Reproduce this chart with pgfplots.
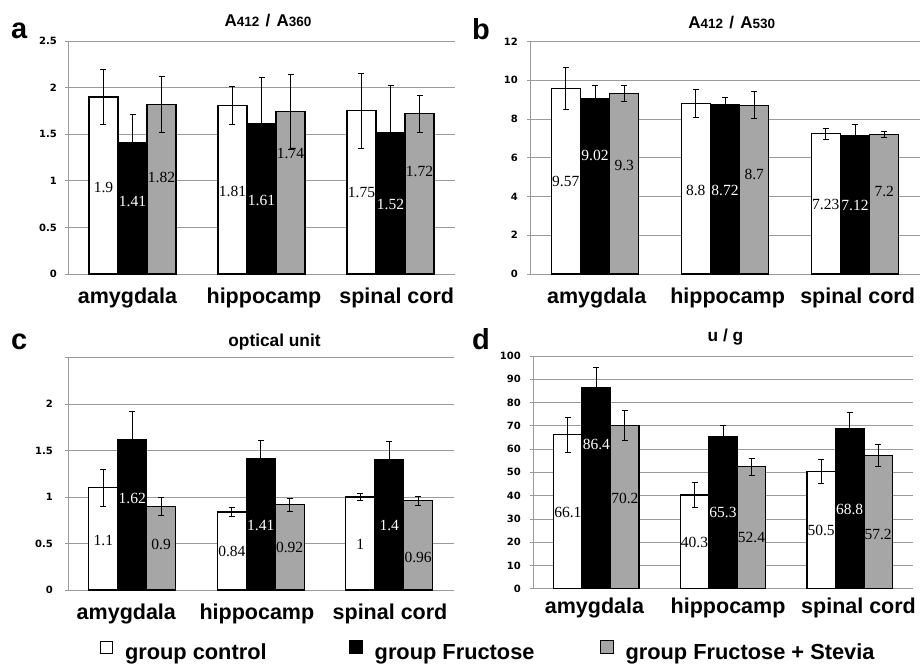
\documentclass[border=0pt]{standalone}
\usepackage{fontspec}
\setmainfont{Liberation Sans}
\newfontfamily\lserif{Liberation Serif}
\newfontfamily\dvs{DejaVu Sans}
\usepackage{pgfplots}
\usepackage{pgfplotstable}
\pgfplotsset{compat=1.18}

\newcommand\tickf{\dvs\fontsize{10}{12}\selectfont\bfseries}
\newcommand\catf{\fontsize{21.5}{24}\selectfont\bfseries}
\newcommand\labf{\lserif\fontsize{15.5}{17}\selectfont}
\newcommand\legf{\fontsize{21.8}{24}\selectfont\bfseries}
\newcommand\letf{\fontsize{29}{30}\selectfont\bfseries}
\newcommand\titf{\fontsize{17}{18}\selectfont\bfseries}
\newcommand\subf{\fontsize{13.5}{14}\selectfont\bfseries}
\newcommand\titr{\fontsize{17.3}{19}\selectfont\bfseries}

\definecolor{barg}{HTML}{A6A6A6}
\definecolor{gridg}{HTML}{9A9A9A}

% x: category; c/f/s: means; ce/fe/se: errors; cl/fl/sl: label heights
\pgfplotstableread{
x c ce f fe s se cl fl sl
0 1.9 0.3 1.41 0.3 1.82 0.3 0.93 0.78 1.04
1 1.81 0.2 1.61 0.5 1.74 0.4 0.89 0.79 1.29
2 1.75 0.4 1.52 0.5 1.72 0.2 0.87 0.75 1.10
}\dataA
\pgfplotstableread{
x c ce f fe s se cl fl sl
0 9.57 1.1 9.02 0.7 9.3 0.4 4.75 6.09 5.58
1 8.8 0.7 8.72 0.4 8.7 0.7 4.29 4.29 5.15
2 7.23 0.3 7.12 0.6 7.2 0.17 3.6 3.55 4.24
}\dataB
\pgfplotstableread{
x c ce f fe s se cl fl sl
0 1.1 0.2 1.62 0.3 0.9 0.1 0.536 0.99 0.49
1 0.84 0.05 1.41 0.2 0.92 0.07 0.42 0.69 0.46
2 1 0.04 1.4 0.2 0.96 0.05 0.49 0.69 0.35
}\dataC
\pgfplotstableread{
x c ce f fe s se cl fl sl
0 66.1 7.7 86.4 8.6 70.2 6.3 32.8 62.0 38.8
1 40.3 5.5 65.3 4.9 52.4 3.8 19.8 32.7 21.9
2 50.5 5.2 68.8 7.0 57.2 4.6 24.9 34.2 23.1
}\dataD

\pgfplotsset{
  panel/.style={
    scale only axis, anchor=south west,
    xmin=-0.5, xmax=2.5, ymin=0,
    axis x line*=bottom, axis y line*=left,
    axis line style={gridg, line width=0.7pt, -},
    ymajorgrids, grid style={gridg, line width=0.7pt},
    xticklabels={amygdala,hippocamp,spinal cord},
    xtick style={draw=none},
    ytick style={gridg, line width=0.7pt},
    tick align=outside, major tick length=3pt,
    yticklabel style={font=\tickf, inner sep=0pt},
    xticklabel style={font=\catf, inner sep=0pt, anchor=north},
    /pgf/number format/assume math mode=true,
    clip=false,
  },
  barstyle/.style={ybar, bar width=0.225, draw=black, line width=1.2pt},
  errstyle/.style={black, draw=none, mark=none, forget plot,
    error bars/y dir=both, error bars/y explicit,
    error bars/error mark=-,
    error bars/error bar style={draw=black, solid, line width=0.8pt},
    error bars/error mark options={rotate=90, draw=black, solid, line width=0.8pt, mark size=3pt}},
  labstyle/.style={draw=none, mark=none, nodes near coords, forget plot,
    point meta=explicit symbolic, nodes near coords align={center},
    every node near coord/.append style={font=\labf, inner sep=0pt, text=#1}},
}

\newcommand\panelplots[1]{%
  \addplot[barstyle, bar shift=-0.225, fill=white] table[x=x, y=c]{#1};
  \addplot[barstyle, bar shift=0, fill=black] table[x=x, y=f]{#1};
  \addplot[barstyle, bar shift=0.225, fill=barg] table[x=x, y=s]{#1};
  \addplot[errstyle] table[x expr=\thisrow{x}-0.225, y=c, y error=ce]{#1};
  \addplot[errstyle] table[x=x, y=f, y error=fe]{#1};
  \addplot[errstyle] table[x expr=\thisrow{x}+0.225, y=s, y error=se]{#1};
  \addplot[labstyle=black] table[x expr=\thisrow{x}-0.225, y=cl, meta=c]{#1};
  \addplot[labstyle=white] table[x=x, y=fl, meta=f]{#1};
  \addplot[labstyle=black] table[x expr=\thisrow{x}+0.225, y=sl, meta=s]{#1};
}

\begin{document}
\begin{tikzpicture}
\useasboundingbox (0,0) rectangle (920pt,664pt);

% panel a
\begin{axis}[panel, at={(68pt,390pt)}, width=387pt, height=233pt,
  ymax=2.5, ytick={0,0.5,1,1.5,2,2.5},
  xtick={-0.039,1.019,2.048},
  yticklabel style={xshift=-8pt}, xticklabel style={yshift=-11pt}]
\panelplots{\dataA}
\end{axis}

% panel b
\begin{axis}[panel, at={(530pt,390pt)}, width=390pt, height=232.7pt,
  ymax=12, ytick={0,2,4,6,8,10,12},
  xtick={0.013,1.02,2.02},
  yticklabel style={xshift=-9pt}, xticklabel style={yshift=-11pt}]
\panelplots{\dataB}
\end{axis}

% panel c
\begin{axis}[panel, at={(68pt,74pt)}, width=385.5pt, height=232.3pt,
  ymax=2.5, ytick={0,0.5,1,1.5,2,2.5}, yticklabels={0,0.5,1,1.5,2,{}},
  xtick={-0.046,0.97,2.006},
  yticklabel style={xshift=-12pt}, xticklabel style={yshift=-11pt}]
\panelplots{\dataC}
\end{axis}

% panel d
\begin{axis}[panel, at={(533pt,75.3pt)}, width=380pt, height=232.7pt,
  ymax=100, ytick={0,10,20,30,40,50,60,70,80,90,100},
  xtick={-0.015,1.04,2.07},
  yticklabel style={xshift=-9pt}, xticklabel style={yshift=-6pt}]
\panelplots{\dataD}
\end{axis}

% legend
\begin{axis}[hide axis, scale only axis, width=10pt, height=10pt,
  at={(100pt,3pt)}, anchor=south west, xmin=0, xmax=1, ymin=0, ymax=1,
  legend columns=3, legend cell align=left,
  legend style={at={(0,0)}, anchor=south west, draw=none, fill=none,
    inner sep=0pt, outer sep=0pt, font=\legf,
    nodes={inner sep=0pt},
    /tikz/every odd column/.style={column sep=12pt},
    /tikz/column 2/.style={column sep=82pt},
    /tikz/column 4/.style={column sep=65pt}}]
\addlegendimage{legend image code/.code={\draw[line width=1pt, draw=black, fill=white] (0pt,-1pt) rectangle (12pt,11pt);}}
\addlegendentry{group control}
\addlegendimage{legend image code/.code={\draw[line width=1pt, draw=black, fill=black] (0pt,-1pt) rectangle (13pt,12pt);}}
\addlegendentry{group Fructose}
\addlegendimage{legend image code/.code={\draw[line width=1pt, draw=black, fill=barg] (0pt,-1pt) rectangle (13pt,12pt);}}
\addlegendentry{group Fructose + Stevia}
\end{axis}

% titles
\node[anchor=base, inner sep=0pt, font=\titf] at (268pt,637.3pt) {A{\subf 412}\hspace{1.5pt} / \hspace{1.5pt}A{\subf 360}};
\node[anchor=base, inner sep=0pt, font=\titf] at (731.7pt,635.7pt) {A{\subf 412}\hspace{1.5pt} / \hspace{1.5pt}A{\subf 530}};
\node[anchor=base, inner sep=0pt, font=\titr] at (274.5pt,317.3pt) {optical unit};
\node[anchor=base, inner sep=0pt, font=\titr] at (725.5pt,322.3pt) {u / g};

% panel letters
\node[anchor=base west, inner sep=0pt, font=\letf] at (11pt,625.7pt) {a};
\node[anchor=base west, inner sep=0pt, font=\letf] at (472pt,624pt) {b};
\node[anchor=base west, inner sep=0pt, font=\letf] at (11pt,314pt) {c};
\node[anchor=base west, inner sep=0pt, font=\letf] at (472pt,314pt) {d};
\end{tikzpicture}
\end{document}
